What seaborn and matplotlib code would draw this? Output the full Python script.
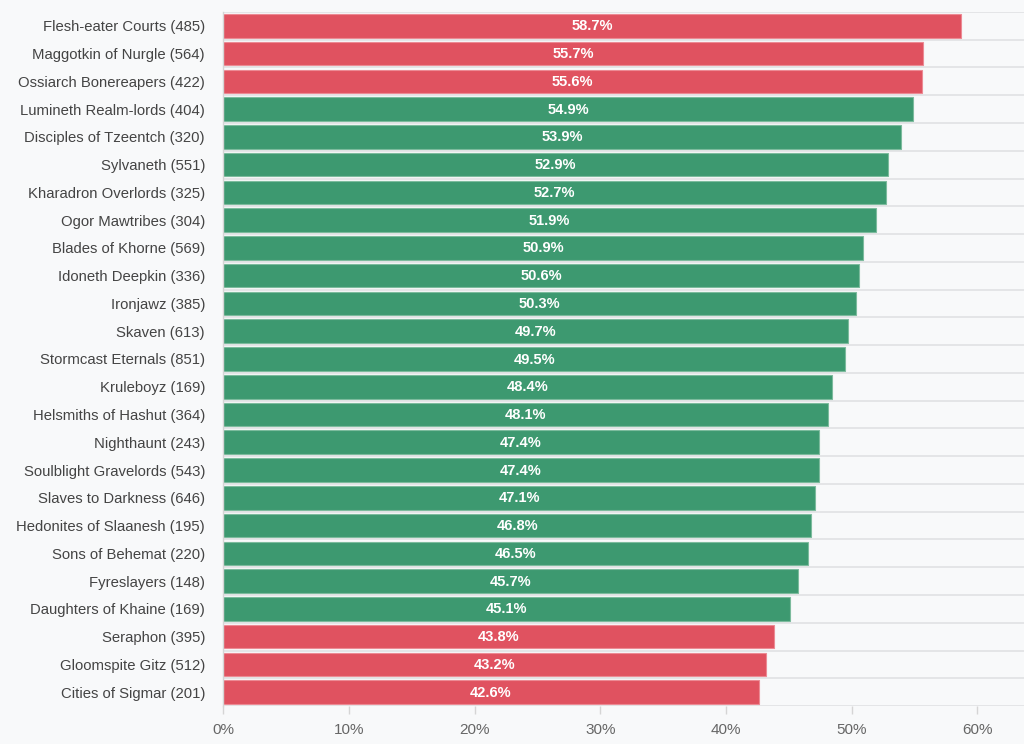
import matplotlib.pyplot as plt
import seaborn as sns
import pandas as pd

factions = [
    "Flesh-eater Courts", "Maggotkin of Nurgle", "Ossiarch Bonereapers",
    "Lumineth Realm-lords", "Disciples of Tzeentch", "Sylvaneth",
    "Kharadron Overlords", "Ogor Mawtribes", "Blades of Khorne",
    "Idoneth Deepkin", "Ironjawz", "Skaven", "Stormcast Eternals",
    "Kruleboyz", "Helsmiths of Hashut", "Nighthaunt", "Soulblight Gravelords",
    "Slaves to Darkness", "Hedonites of Slaanesh", "Sons of Behemat",
    "Fyreslayers", "Daughters of Khaine", "Seraphon", "Gloomspite Gitz",
    "Cities of Sigmar",
]
games = [485, 564, 422, 404, 320, 551, 325, 304, 569, 336, 385, 613, 851,
         169, 364, 243, 543, 646, 195, 220, 148, 169, 395, 512, 201]
win_rate = [58.7, 55.7, 55.6, 54.9, 53.9, 52.9, 52.7, 51.9, 50.9, 50.6, 50.3,
            49.7, 49.5, 48.4, 48.1, 47.4, 47.4, 47.1, 46.8, 46.5, 45.7, 45.1,
            43.8, 43.2, 42.6]

RED = "#e05260"
GREEN = "#3d9970"
BG = "#f8f9fa"

df = pd.DataFrame({
    "label": [f"{f} ({g})" for f, g in zip(factions, games)],
    "win": win_rate,
})
df["band"] = ["out" if (v > 55 or v < 44) else "in" for v in df["win"]]

plt.rcParams["font.family"] = ["Liberation Sans", "DejaVu Sans"]

fig = plt.figure(figsize=(10.24, 7.44), dpi=100, facecolor=BG)
ax = fig.add_axes([0.2178, 0.051, 0.7822, 0.933])
ax.set_facecolor(BG)

sns.barplot(data=df, x="win", y="label", hue="band", orient="h",
            palette={"out": RED, "in": GREEN}, width=0.85, dodge=False,
            legend=False, ax=ax, saturation=1)

edge = {RED: "#ec8a94", GREEN: "#7cbb9d"}
for bar in ax.patches:
    fc = "#%02x%02x%02x" % tuple(int(round(c * 255)) for c in bar.get_facecolor()[:3])
    bar.set_edgecolor(edge.get(fc, "white"))
    bar.set_linewidth(0.8)

# value labels in the middle of each bar
for i, v in enumerate(df["win"]):
    ax.text(v / 2, i + 0.02, f"{v:.1f}%", ha="center", va="center",
            color="white", fontsize=10.5, fontweight="bold")

# row separators
for i in range(len(df) + 1):
    ax.axhline(i - 0.5, color="#e2e3e5", linewidth=1.3, zorder=0)

ax.set_xlim(0, 63.7)
ax.set_ylim(len(df) - 0.5, -0.5)
ax.set_xticks(range(0, 61, 10))
ax.set_xticklabels([f"{t}%" for t in range(0, 61, 10)])
ax.tick_params(axis="x", colors="#d5d5d5", labelcolor="#666666",
               labelsize=11, length=6, width=1, pad=6)
ax.tick_params(axis="y", length=0, labelcolor="#444444", labelsize=10.7, pad=13)
ax.set_xlabel("")
ax.set_ylabel("")

for s in ["top", "right", "bottom"]:
    ax.spines[s].set_visible(False)
ax.spines["left"].set_color("#d5d5d5")
ax.spines["left"].set_linewidth(1)

fig.savefig("out.png", dpi=100, facecolor=BG)
